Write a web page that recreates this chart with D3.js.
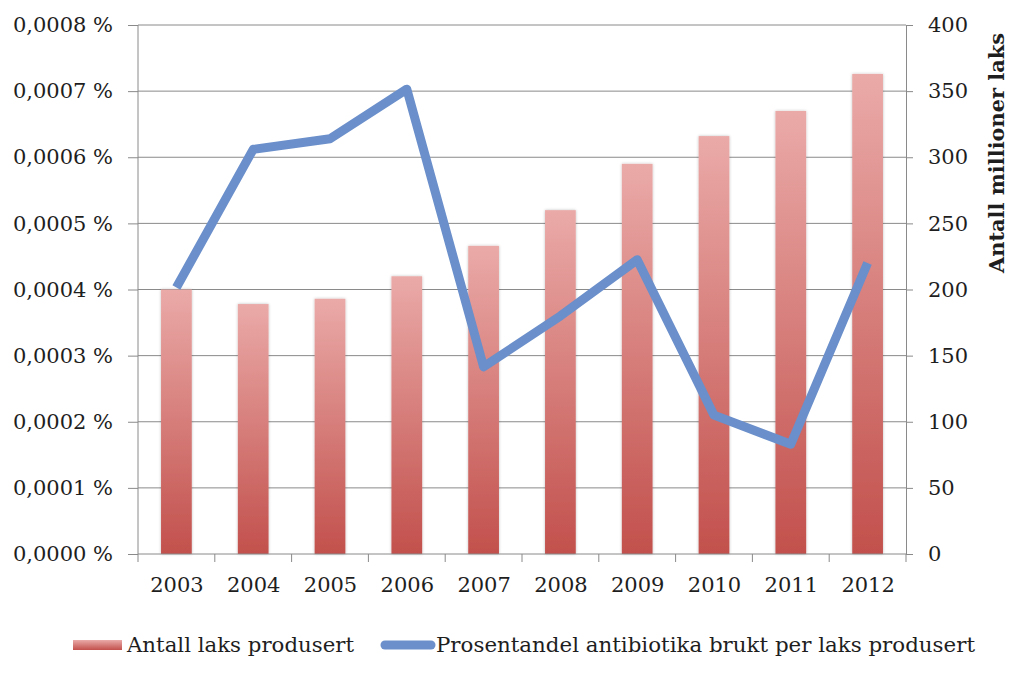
<!DOCTYPE html>
<html><head><meta charset="utf-8">
<script src="https://cdn.jsdelivr.net/npm/d3@7"></script>
<style>
body{margin:0;background:#fff;}
text{font-family:"DejaVu Serif",serif;fill:#1e1e1e;}
</style></head>
<body><svg id="c" width="1024" height="675"></svg>
<script>
const years = ["2003","2004","2005","2006","2007","2008","2009","2010","2011","2012"];
const laks = [200, 189, 193, 210, 233, 260, 295, 316, 335, 363];
const antibiotika = [0.000403, 0.000612, 0.000628, 0.000703, 0.000283, 0.000360, 0.000445, 0.000210, 0.000166, 0.000440];
const leftTicks = [0,0.0001,0.0002,0.0003,0.0004,0.0005,0.0006,0.0007,0.0008];
const rightTicks = [0,50,100,150,200,250,300,350,400];
const seriesNames = ["Antall laks produsert","Prosentandel antibiotika brukt per laks produsert"];
const rightTitle = "Antall millioner laks";

const svg = d3.select("#c");
const m = {l:138, r:906, t:25, b:554};
const grid = "#8a8a8a";

const x = d3.scaleBand().domain(years).range([m.l, m.r]).paddingInner(0.6).paddingOuter(0.3);
const xc = d3.scalePoint().domain(years).range([m.l, m.r]).padding(0.5);
const yL = d3.scaleLinear().domain([0,0.0008]).range([m.b, m.t]);
const yR = d3.scaleLinear().domain([0,400]).range([m.b, m.t]);

const defs = svg.append("defs");
const g = defs.append("linearGradient").attr("id","bg").attr("x1",0).attr("y1",0).attr("x2",0).attr("y2",1);
g.append("stop").attr("offset","0%").attr("stop-color","#eaaaa8");
g.append("stop").attr("offset","100%").attr("stop-color","#c2504c");
const f = defs.append("filter").attr("id","sh").attr("x","-30%").attr("y","-10%").attr("width","160%").attr("height","120%");
f.append("feGaussianBlur").attr("in","SourceAlpha").attr("stdDeviation",1.5).attr("result","b");
f.append("feOffset").attr("in","b").attr("dx",0).attr("dy",0).attr("result","o");
f.append("feComponentTransfer").attr("in","o").attr("result","t").append("feFuncA").attr("type","linear").attr("slope",0.25);
const fm = f.append("feMerge"); fm.append("feMergeNode").attr("in","t"); fm.append("feMergeNode").attr("in","SourceGraphic");

// left axis with gridlines
const fmtP = d => d3.format(".4f")(d).replace(".", ",") + " %";
const ax = svg.append("g").attr("transform",`translate(${m.l},0)`)
  .call(d3.axisLeft(yL).tickValues(leftTicks).tickFormat(fmtP).tickSize(10).tickPadding(15));
ax.select(".domain").remove();
ax.selectAll("line").attr("stroke",grid);
ax.selectAll("text").style("font-size","21px").attr("fill","#1e1e1e");
// gridlines
svg.append("g").selectAll("line").data(leftTicks.slice(1)).join("line")
  .attr("x1",m.l).attr("x2",m.r).attr("y1",d=>yL(d)).attr("y2",d=>yL(d))
  .attr("stroke",grid).attr("stroke-width",1);

// right axis
const ar = svg.append("g").attr("transform",`translate(${m.r},0)`)
  .call(d3.axisRight(yR).tickValues(rightTicks).tickSize(7).tickPadding(15));
ar.select(".domain").attr("stroke",grid);
ar.selectAll("line").attr("stroke",grid);
ar.selectAll("text").style("font-size","21px").attr("fill","#1e1e1e");

// left axis line
svg.append("line").attr("x1",m.l).attr("x2",m.l).attr("y1",m.t).attr("y2",m.b).attr("stroke",grid);

// bars
svg.append("g").selectAll("rect").data(years).join("rect")
  .attr("x",d=>x(d)).attr("width",x.bandwidth())
  .attr("y",(d,i)=>yR(laks[i])).attr("height",(d,i)=>m.b - yR(laks[i]))
  .attr("fill","url(#bg)").attr("filter","url(#sh)");

// bottom axis
const step = (m.r - m.l)/years.length;
const ab = svg.append("g").attr("transform",`translate(0,${m.b})`)
  .call(d3.axisBottom(xc).tickSize(0).tickPadding(23));
ab.select(".domain").remove();
ab.selectAll("text").style("font-size","21px").attr("fill","#1e1e1e");
svg.append("line").attr("x1",m.l).attr("x2",m.r).attr("y1",m.b).attr("y2",m.b).attr("stroke",grid);
svg.append("g").selectAll("line").data(d3.range(years.length+1)).join("line")
  .attr("x1",i=>m.l+i*step).attr("x2",i=>m.l+i*step).attr("y1",m.b).attr("y2",m.b+8).attr("stroke",grid);

// line
const line = d3.line().x((d,i)=>xc(years[i])).y(d=>yL(d));
svg.append("path").datum(antibiotika).attr("d",line)
  .attr("fill","none").attr("stroke","#6a8fca").attr("stroke-width",9).attr("stroke-linejoin","round");

// right title
svg.append("text").attr("transform",`translate(1004,153) rotate(-90)`).attr("text-anchor","middle")
  .style("font-size","20px").style("font-weight","bold").attr("textLength",240).attr("lengthAdjust","spacingAndGlyphs").text(rightTitle);

// legend
const ly = 645;
svg.append("rect").attr("x",73).attr("y",ly-5).attr("width",49).attr("height",10).attr("fill","url(#bg)");
svg.append("text").attr("x",127).attr("y",ly+7).style("font-size","21px")
  .attr("textLength",227).attr("lengthAdjust","spacingAndGlyphs").text(seriesNames[0]);
svg.append("line").attr("x1",385).attr("x2",431).attr("y1",ly).attr("y2",ly)
  .attr("stroke","#6a8fca").attr("stroke-width",9).attr("stroke-linecap","round");
svg.append("text").attr("x",436).attr("y",ly+7).style("font-size","21px")
  .attr("textLength",539).attr("lengthAdjust","spacingAndGlyphs").text(seriesNames[1]);
</script></body></html>
